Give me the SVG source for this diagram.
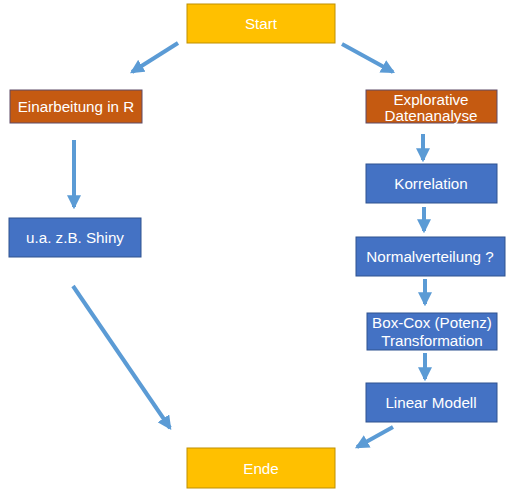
<svg xmlns="http://www.w3.org/2000/svg" width="506" height="493" viewBox="0 0 506 493">
<defs>
<style>
.term{fill:#FFC000;stroke:#BF9000;stroke-width:1}
.org{fill:#C55A11;stroke:#5E4A66;stroke-width:1}
.blue{fill:#4472C4;stroke:#2F528F;stroke-width:1}
.t{font-family:"Liberation Sans",Arial,sans-serif;font-size:15.2px;fill:#FFFFFF;text-anchor:middle}
.c{stroke:#5B9BD5;stroke-width:4;fill:none;marker-end:url(#ah)}
</style>
<marker id="ah" markerUnits="userSpaceOnUse" markerWidth="14" markerHeight="14" viewBox="0 0 12 12" refX="10" refY="6" orient="auto">
<path d="M0,0 L12,6 L0,12 z" fill="#5B9BD5"/>
</marker>
</defs>
<rect width="506" height="493" fill="#FFFFFF"/>
<g id="connectors">
<line class="c" x1="178" y1="43" x2="132" y2="72"/>
<line class="c" x1="342" y1="44" x2="393" y2="72"/>
<line class="c" x1="74" y1="140" x2="74" y2="207"/>
<line class="c" x1="423" y1="134" x2="423" y2="160"/>
<line class="c" x1="424" y1="207" x2="424" y2="231"/>
<line class="c" x1="425" y1="279" x2="425" y2="304"/>
<line class="c" x1="425" y1="353" x2="425" y2="379"/>
<line class="c" x1="73" y1="286" x2="170" y2="428"/>
<line class="c" x1="393" y1="427" x2="357" y2="447"/>
</g>
<g id="start"><rect class="term" x="187" y="4" width="148" height="39"/><text class="t" x="261" y="29">Start</text></g>
<g id="einarbeitung"><rect class="org" x="10" y="90" width="132" height="33"/><text class="t" x="76" y="112">Einarbeitung in R</text></g>
<g id="explorative"><rect class="org" x="366" y="90" width="131" height="33"/><text class="t" x="431" y="105">Explorative</text><text class="t" x="431" y="121">Datenanalyse</text></g>
<g id="shiny"><rect class="blue" x="9" y="218" width="132" height="39"/><text class="t" x="75" y="243">u.a. z.B. Shiny</text></g>
<g id="korrelation"><rect class="blue" x="366" y="164" width="131" height="39"/><text class="t" x="431" y="189">Korrelation</text></g>
<g id="normalverteilung"><rect class="blue" x="356" y="237" width="149" height="39"/><text class="t" x="430" y="262">Normalverteilung ?</text></g>
<g id="boxcox"><rect class="blue" x="367" y="313" width="130" height="37"/><text class="t" x="432" y="328">Box-Cox (Potenz)</text><text class="t" x="432" y="346">Transformation</text></g>
<g id="linear"><rect class="blue" x="366" y="383" width="131" height="39"/><text class="t" x="431" y="408">Linear Modell</text></g>
<g id="ende"><rect class="term" x="187" y="448" width="148" height="40"/><text class="t" x="261" y="474">Ende</text></g>
</svg>
